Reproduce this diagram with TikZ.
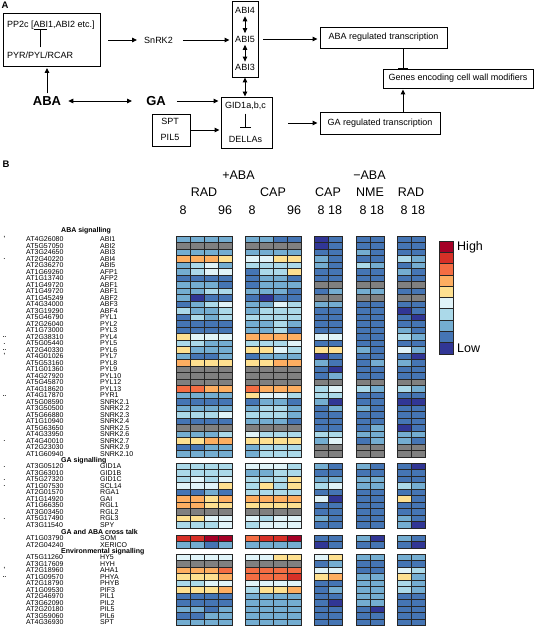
\documentclass[tikz,border=0pt]{standalone}
\usepackage{fontspec}
\setmainfont{Liberation Sans}
\usepackage{tikz}
\usetikzlibrary{arrows.meta}
\definecolor{h0}{HTML}{808080}
\definecolor{h1}{HTML}{313695}
\definecolor{h2}{HTML}{4575B4}
\definecolor{h3}{HTML}{74ADD1}
\definecolor{h4}{HTML}{ABD9E9}
\definecolor{h5}{HTML}{E0F3F8}
\definecolor{h6}{HTML}{FEE090}
\definecolor{h7}{HTML}{FDAE61}
\definecolor{h8}{HTML}{F46D43}
\definecolor{h9}{HTML}{D73027}
\definecolor{h10}{HTML}{A50026}
\tikzset{box/.style={draw, line width=0.9pt, inner sep=0}}
\tikzset{lab/.style={inner sep=0, font=\fontsize{9}{10}\selectfont}}
\tikzset{big/.style={inner sep=0, font=\fontsize{13}{14}\selectfont\bfseries}}
\tikzset{plab/.style={inner sep=0, font=\fontsize{9.5}{10}\selectfont\bfseries}}
\tikzset{head/.style={inner sep=0, font=\fontsize{12.5}{13}\selectfont}}
\tikzset{gene/.style={inner sep=0, anchor=west, font=\fontsize{7}{7}\selectfont}}
\tikzset{sect/.style={inner sep=0, anchor=west, font=\fontsize{7}{7}\selectfont\bfseries}}
\tikzset{star/.style={inner sep=0, font=\fontsize{6}{6}\selectfont\bfseries}}
\tikzset{cell/.style={draw=black!85, line width=0.7pt}}
\tikzset{arr/.style={-{Triangle[length=5pt,width=4.5pt]}, line width=0.9pt}}
\tikzset{dbl/.style={{Triangle[length=5pt,width=4.5pt]}-{Triangle[length=5pt,width=4.5pt]}, line width=0.9pt}}
\tikzset{inhib/.style={-{Bar[width=#1]}, line width=0.9pt}}

% one block of heat map rows, top edge #1
\newcommand{\hblock}[2]{%
  \foreach \vals [count=\ri] in {#2} {%
    \foreach \val [count=\ci] in \vals {%
      \pgfmathsetmacro{\xl}{{176,190,204,218,245,259,273,287,314,328,356,370,397,411}[\ci-1]}%
      \pgfmathsetmacro{\yt}{#1+6.5*(\ri-1)}%
      \filldraw[cell, fill=h\val] (\xl,\yt) rectangle ++(14,6.5);%
    }%
  }%
}
% gene ids and names, first row centre #1
\newcommand{\lblock}[3]{%
  \foreach \gid/\gname [count=\ri] in {#3} {%
    \node[gene] at (26, {#1+6.5*(\ri-1)}) (id#2\ri) {\gid};%
    \node[gene] at (100, {#1+6.5*(\ri-1)}) (nm#2\ri) {\gname};%
  }%
}

\begin{document}
\begin{tikzpicture}[x=1pt, y=-1pt]
  \useasboundingbox (0,0) rectangle (542,628);

  % A
  \node[plab] at (5, 5) (la) {A};
  \node[box, minimum width=97pt, minimum height=53pt] at (51.5, 40) (rec) {};
  \node[lab, anchor=west] at (7, 25) (pp2c) {PP2c [ABI1,ABI2 etc.]};
  \node[lab, anchor=west] at (7, 55) (pyr) {PYR/PYL/RCAR};
  \coordinate (tb) at (40, 0);
  \node[lab] at (158.5, 40) (snrk) {SnRK2};

  \node[box, minimum width=26pt, minimum height=76pt] at (245, 39) (abi) {};
  \node[lab] at (245, 10) (abi4) {ABI4};
  \node[lab] at (245, 39) (abi5) {ABI5};
  \node[lab] at (245, 67.5) (abi3) {ABI3};

  \node[big] at (47, 101) (aba) {ABA};
  \node[big] at (156, 101) (ga) {GA};

  \node[box, minimum width=51pt, minimum height=51pt] at (246.5, 122.5) (gid) {};
  \node[lab] at (245.5, 106) (gidt) {GID1a,b,c};
  \node[lab] at (245.5, 139) (della) {DELLAs};
  \node[box, minimum width=38pt, minimum height=32pt] at (171, 130) (spt) {};
  \node[lab] at (170, 121) (sptt) {SPT};
  \node[lab] at (170, 137) (pil) {PIL5};

  \node[box, minimum width=127pt, minimum height=21pt] at (383.5, 37.5) (abareg) {};
  \node[lab] at (383.5, 37.5) {ABA regulated transcription};
  \node[box, minimum width=150pt, minimum height=19pt] at (458, 78.5) (genes) {};
  \node[lab] at (458, 78.5) {Genes encoding cell wall modifiers};
  \node[box, minimum width=120pt, minimum height=22pt] at (380, 123) (gareg) {};
  \node[lab] at (380, 123) {GA regulated transcription};
  \coordinate (mid) at (403, 0);

  \draw[inhib=13pt, shorten <=4pt] (pyr.north -| tb) -- (pp2c.south -| tb);
  \draw[arr, shorten <=8pt, shorten >=7pt] (rec.east |- snrk) -- (snrk.west);
  \draw[arr, shorten <=10pt, shorten >=2pt] (snrk.east) -- (snrk.east -| abi.west);
  \draw[dbl, shorten <=3pt, shorten >=2.5pt] (abi4) -- (abi5);
  \draw[dbl, shorten <=2.5pt, shorten >=2.5pt] (abi5) -- (abi3);
  \draw[dbl] (abi.south) -- (abi.south |- gid.north);
  \draw[arr, shorten <=3pt, shorten >=1pt] (aba.north) -- (aba.north |- rec.south);
  \draw[dbl, shorten <=7pt, shorten >=14pt] (aba.east) -- (ga.west);
  \draw[arr, shorten <=11pt, shorten >=2pt] (ga.east) -- (ga.east -| gid.west);
  \draw[arr, shorten >=1pt] (spt.east) -- (spt.east -| gid.west);
  \draw[inhib=11pt, shorten <=3.5pt, shorten >=8pt] (gidt) -- (della);
  \draw[arr, shorten <=5pt, shorten >=2pt] (abi.east) -- (abi.east -| abareg.west);
  \draw[arr, shorten <=16pt, shorten >=2pt] (gid.east |- gareg) -- (gareg.west);
  \draw[inhib=10pt] (abareg.south -| mid) -- (genes.north -| mid);
  \draw[arr, shorten >=1pt] (gareg.north -| mid) -- (genes.south -| mid);

  % B
  \node[plab] at (6, 164.5) (lb) {B};
  \node[head] at (238.5, 175) (plus) {+ABA};
  \node[head] at (369.5, 175) (minus) {−ABA};
  \node[head] at (204, 192) (rad1) {RAD};
  \node[head] at (273, 192) (cap1) {CAP};
  \node[head] at (328, 192) (cap2) {CAP};
  \node[head] at (370, 192) (nme) {NME};
  \node[head] at (411, 192) (rad2) {RAD};
  \foreach \xx/\tt [count=\i] in {183/8,225/96,252/8,294/96,321/8,335/18,363/8,377/18,404/8,418/18}
    \node[head] at (\xx, 210) (t\i) {\tt};

  \hblock{236.3}{%
{3,3,3,3,3,3,2,2,1,2,2,2,2,2},%
{0,0,0,0,0,0,0,0,1,2,2,2,2,2},%
{3,3,3,3,3,3,3,3,2,2,3,2,2,2},%
{7,7,7,6,5,5,6,6,3,2,2,2,4,3},%
{3,4,5,3,4,4,4,4,3,2,4,3,2,3},%
{3,4,5,5,2,4,4,6,2,2,2,2,3,2},%
{2,2,2,2,2,3,3,2,2,2,2,2,2,2},%
{3,3,3,2,2,3,3,3,0,0,0,0,0,0},%
{3,3,4,4,3,3,3,2,2,3,3,3,2,2},%
{3,1,2,2,2,1,2,2,0,0,0,0,0,0},%
{2,3,4,5,3,3,5,4,3,3,2,2,2,2},%
{4,3,3,4,3,4,4,4,2,2,2,2,1,2},%
{2,4,3,4,4,4,4,4,2,2,2,2,2,1},%
{2,2,2,2,3,3,4,3,2,2,2,2,2,2},%
{2,2,2,2,3,3,4,2,2,2,2,2,3,2},%
{6,5,5,5,7,7,7,7,5,5,2,2,4,3},%
{4,4,3,3,4,4,4,5,2,2,2,2,2,2},%
{6,3,3,3,6,6,5,4,6,6,3,2,5,3},%
{3,2,2,3,2,3,3,3,1,2,2,2,2,1},%
{7,6,6,6,6,6,7,7,3,2,2,3,3,2},%
{0,0,0,0,0,0,0,0,2,1,2,2,2,2},%
{0,0,0,0,0,0,0,0,2,3,2,2,2,2},%
{0,0,0,0,0,0,0,0,0,0,0,0,0,0},%
{8,8,7,7,8,7,7,7,4,5,4,3,4,3},%
{3,3,3,3,6,5,5,4,4,4,2,2,2,2},%
{2,2,2,2,2,3,3,2,3,1,2,2,1,1},%
{3,3,3,3,3,4,4,3,2,3,3,2,2,2},%
{4,4,4,5,4,4,4,3,2,2,2,2,2,2},%
{2,2,2,2,3,3,3,2,2,2,2,2,2,2},%
{0,0,0,0,0,0,0,0,2,2,2,3,1,2},%
{3,3,3,4,5,4,4,4,4,4,3,3,3,3},%
{6,6,7,7,6,6,6,6,3,5,2,3,3,2},%
{2,2,3,3,3,4,4,4,0,0,0,0,0,0},%
{3,3,3,3,3,4,4,4,0,0,0,0,0,0}}
  \hblock{463.3}{%
{4,4,4,4,5,5,5,4,3,2,3,2,2,1},%
{4,4,4,4,3,3,4,4,2,2,2,2,2,2},%
{4,5,4,5,4,4,4,6,3,3,3,3,2,2},%
{5,5,5,6,4,6,4,6,4,5,3,3,4,3},%
{2,2,3,2,4,4,4,4,2,2,2,2,2,2},%
{7,7,6,7,7,7,7,7,5,1,2,2,6,2},%
{7,7,6,6,6,6,6,6,2,2,2,2,2,2},%
{0,0,0,0,0,0,0,0,2,2,2,2,2,2},%
{6,6,5,5,5,4,5,5,3,2,2,2,3,2},%
{4,4,4,5,4,5,5,5,2,2,2,2,3,1}}
  \hblock{535}{%
{9,9,10,10,8,9,9,10,2,2,3,1,3,2},%
{3,3,2,3,3,3,3,3,1,2,2,2,2,1}}
  \hblock{554.3}{%
{5,5,5,5,5,5,6,6,5,6,3,3,3,3},%
{0,0,0,0,0,0,0,0,2,3,2,2,2,2},%
{7,7,7,8,8,8,8,8,5,5,2,2,5,4},%
{6,6,6,7,8,8,8,9,6,7,3,3,6,3},%
{4,4,5,5,5,5,5,5,2,2,3,3,4,3},%
{6,6,6,7,4,6,6,7,2,3,3,3,4,3},%
{2,2,2,2,3,3,3,3,2,2,3,3,2,2},%
{2,2,2,2,3,3,3,3,2,1,3,3,2,2},%
{3,3,2,3,3,3,3,3,2,2,2,1,2,2},%
{2,2,3,3,3,3,3,3,2,2,2,2,2,2},%
{3,3,3,3,3,3,3,3,2,2,2,2,2,2}}

  % row labels
  \node[sect] at (61, 231) (sa) {ABA signalling};
  \lblock{239.55}{a}{%
AT4G26080/ABI1,AT5G57050/ABI2,AT3G24650/ABI3,AT2G40220/ABI4,%
AT2G36270/ABI5,AT1G69260/AFP1,AT1G13740/AFP2,AT1G49720/ABF1,%
AT1G49720/ABF1,AT1G45249/ABF2,AT4G34000/ABF3,AT3G19290/ABF4,%
AT5G46790/PYL1,AT2G26040/PYL2,AT1G73000/PYL3,AT2G38310/PYL4,%
AT5G05440/PYL5,AT2G40330/PYL6,AT4G01026/PYL7,AT5G53160/PYL8,%
AT1G01360/PYL9,AT4G27920/PYL10,AT5G45870/PYL12,AT4G18620/PYL13,%
AT4G17870/PYR1,AT5G08590/SNRK2.1,AT3G50500/SNRK2.2,AT5G66880/SNRK2.3,%
AT1G10940/SNRK2.4,AT5G63650/SNRK2.5,AT4G33950/SNRK2.6,AT4G40010/SNRK2.7,%
AT2G23030/SNRK2.9,AT1G60940/SNRK2.10}
  \node[sect] at (61, 460.3) (sg) {GA signalling};
  \lblock{466.55}{g}{%
AT3G05120/GID1A,AT3G63010/GID1B,AT5G27320/GID1C,AT1G07530/SCL14,%
AT2G01570/RGA1,AT1G14920/GAI,AT1G66350/RGL1,AT3G03450/RGL2,%
AT5G17490/RGL3,AT3G11540/SPY}
  \node[sect] at (61, 531.7) (sx) {GA and ABA cross talk};
  \lblock{538.25}{x}{AT1G03790/SOM,AT2G04240/XERICO}
  \node[sect] at (61, 551.3) (se) {Environmental signalling};
  \lblock{557.55}{e}{%
AT5G11260/HY5,AT3G17609/HYH,AT2G18960/AHA1,AT1G09570/PHYA,%
AT2G18790/PHYB,AT1G09530/PIF3,AT2G46970/PIL1,AT3G62090/PIL2,%
AT2G20180/PIL5,AT3G59060/PIL6,AT4G36930/SPT}

  % marks
  \foreach \yy/\mm [count=\i] in {238.5/',259.5/.,337.5/..,344/.,350.5/..,355.5/',396/..,441.5/.,467/.,480/.,486.5/.,519/.,569.5/',577.5/..}
    \node[star] at (4.5, \yy) (mk\i) {\mm};

  % legend
  \foreach \val [count=\i] in {10,9,8,7,6,5,4,3,2,1}
    \filldraw[cell, fill=h\val] (439, {241+11.3*(\i-1)}) rectangle ++(14,11.3);
  \node[head, anchor=west] at (457, 247) (hi) {High};
  \node[head, anchor=west] at (457, 348) (lo) {Low};
\end{tikzpicture}
\end{document}
